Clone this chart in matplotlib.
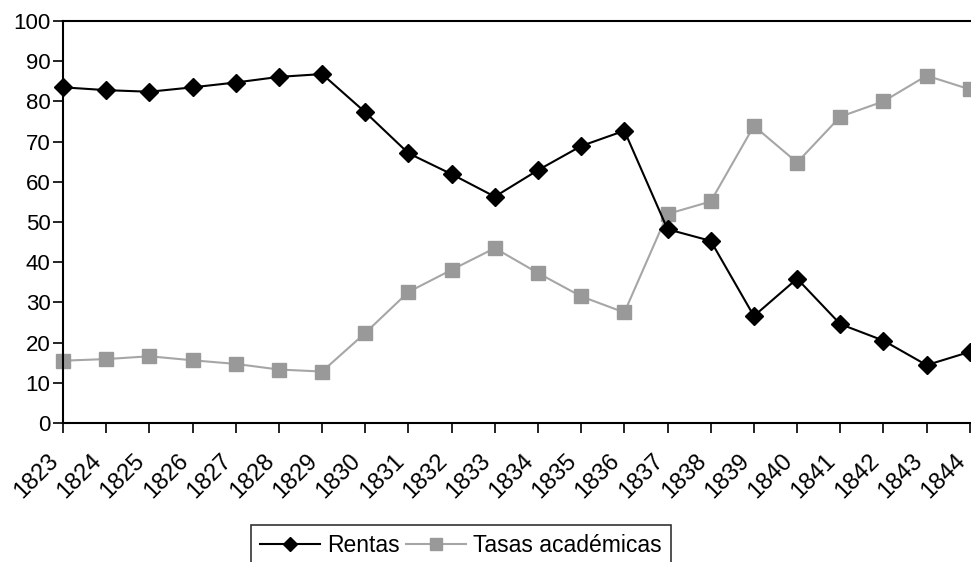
import matplotlib
matplotlib.use("Agg")
import matplotlib.pyplot as plt

years = list(range(1823, 1845))
rentas = [83.5, 82.8, 82.4, 83.5, 84.7, 86.1, 86.8, 77.3, 67.1, 61.9, 56.3,
          62.9, 68.9, 72.7, 48.2, 45.3, 26.6, 35.9, 24.6, 20.5, 14.4, 17.7]
tasas = [15.5, 15.9, 16.6, 15.6, 14.7, 13.3, 12.8, 22.4, 32.6, 38.1, 43.5,
         37.3, 31.5, 27.5, 52.0, 55.1, 73.9, 64.8, 76.2, 80.0, 86.4, 83.0]
yticks = list(range(0, 101, 10))

plt.rcParams['font.family'] = ['Liberation Sans', 'DejaVu Sans']

fig = plt.figure(figsize=(9.71, 5.62), dpi=100)
ax = fig.add_axes([63/971, 1 - 423/562, 950/971, 402/562])

ax.plot(years, rentas, color='black', lw=1.5, marker='D', markersize=9,
        markerfacecolor='black', markeredgecolor='black', label='Rentas', clip_on=False, zorder=3)
ax.plot(years, tasas, color='#a6a6a6', lw=1.5, marker='s', markersize=10,
        markerfacecolor='#999999', markeredgecolor='#999999', label='Tasas académicas', clip_on=False, zorder=2)

ax.set_xlim(1823, 1845)
ax.set_ylim(0, 100)
ax.set_yticks(yticks)
ax.set_xticks(years)
ax.set_xticklabels([str(y) for y in years], rotation=45, ha='right', va='top', fontsize=17)
ax.tick_params(axis='both', direction='out', length=7, width=1.2, colors='black')
ax.tick_params(axis='y', labelsize=16, pad=2)
ax.tick_params(axis='x', pad=12)
for s in ['left', 'bottom', 'top']:
    ax.spines[s].set_linewidth(1.5)
ax.spines['right'].set_visible(False)

leg = fig.legend(loc='upper center', bbox_to_anchor=(461/971, 1 - 525/562), ncol=2,
                 fontsize=16.5, frameon=True, fancybox=False, handlelength=2.6,
                 markerscale=0.8, columnspacing=0.3, handletextpad=0.3,
                 borderpad=0.4, borderaxespad=0)
leg.get_frame().set_edgecolor('black')
leg.get_frame().set_linewidth(1.2)

fig.savefig('out.png', dpi=100)
